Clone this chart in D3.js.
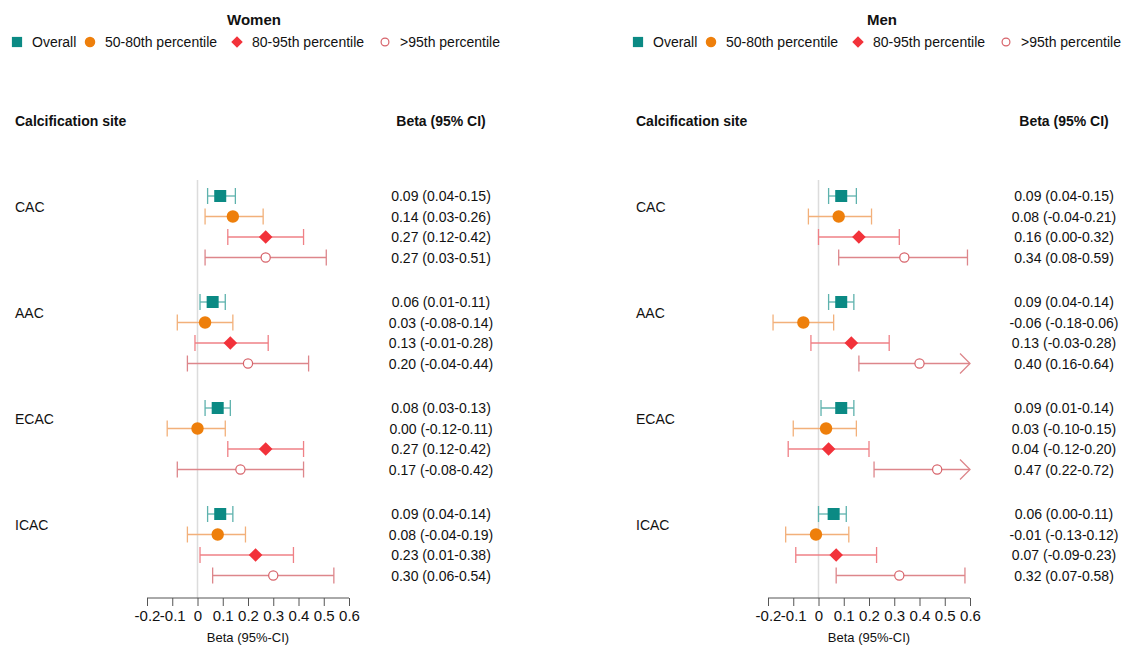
<!DOCTYPE html>
<html>
<head>
<meta charset="utf-8">
<script src="https://cdn.jsdelivr.net/npm/d3@7"></script>
<style>
  body { margin: 0; background: #fff; }
  text { font-family: "Liberation Sans", Arial, sans-serif; fill: #111; }
</style>
</head>
<body>
<div id="chart"></div>
<script>
// ---- data ----
var sites = ["CAC", "AAC", "ECAC", "ICAC"];
var groups = ["Overall", "50-80th percentile", "80-95th percentile", ">95th percentile"];

// women: [beta, lower, upper] per site, per group
var womenBeta  = [[0.09, 0.14, 0.27, 0.27], [0.06, 0.03, 0.13, 0.20], [0.08, 0.00, 0.27, 0.17], [0.09, 0.08, 0.23, 0.30]];
var womenLower = [[0.04, 0.03, 0.12, 0.03], [0.01, -0.08, -0.01, -0.04], [0.03, -0.12, 0.12, -0.08], [0.04, -0.04, 0.01, 0.06]];
var womenUpper = [[0.15, 0.26, 0.42, 0.51], [0.11, 0.14, 0.28, 0.44], [0.13, 0.11, 0.42, 0.42], [0.14, 0.19, 0.38, 0.54]];
var womenLabels = [
  ["0.09 (0.04-0.15)", "0.14 (0.03-0.26)", "0.27 (0.12-0.42)", "0.27 (0.03-0.51)"],
  ["0.06 (0.01-0.11)", "0.03 (-0.08-0.14)", "0.13 (-0.01-0.28)", "0.20 (-0.04-0.44)"],
  ["0.08 (0.03-0.13)", "0.00 (-0.12-0.11)", "0.27 (0.12-0.42)", "0.17 (-0.08-0.42)"],
  ["0.09 (0.04-0.14)", "0.08 (-0.04-0.19)", "0.23 (0.01-0.38)", "0.30 (0.06-0.54)"]
];

var menBeta  = [[0.09, 0.08, 0.16, 0.34], [0.09, -0.06, 0.13, 0.40], [0.09, 0.03, 0.04, 0.47], [0.06, -0.01, 0.07, 0.32]];
var menLower = [[0.04, -0.04, 0.00, 0.08], [0.04, -0.18, -0.03, 0.16], [0.01, -0.10, -0.12, 0.22], [0.00, -0.13, -0.09, 0.07]];
var menUpper = [[0.15, 0.21, 0.32, 0.59], [0.14, 0.06, 0.28, 0.64], [0.14, 0.15, 0.20, 0.72], [0.11, 0.12, 0.23, 0.58]];
var menLabels = [
  ["0.09 (0.04-0.15)", "0.08 (-0.04-0.21)", "0.16 (0.00-0.32)", "0.34 (0.08-0.59)"],
  ["0.09 (0.04-0.14)", "-0.06 (-0.18-0.06)", "0.13 (-0.03-0.28)", "0.40 (0.16-0.64)"],
  ["0.09 (0.01-0.14)", "0.03 (-0.10-0.15)", "0.04 (-0.12-0.20)", "0.47 (0.22-0.72)"],
  ["0.06 (0.00-0.11)", "-0.01 (-0.13-0.12)", "0.07 (-0.09-0.23)", "0.32 (0.07-0.58)"]
];

var xTicks = [-0.2, -0.1, 0, 0.1, 0.2, 0.3, 0.4, 0.5, 0.6];
var xTickLabels = ["-0.2", "-0.1", "0", "0.1", "0.2", "0.3", "0.4", "0.5", "0.6"];

// marker / line colours per group
var markColors = ["#0b8a84", "#ee7f0b", "#f2323a", "#d7636a"];
var lineColors = ["#5eb2ad", "#f2b07a", "#ef8086", "#dd868b"];

var width = 1132, height = 650;

var svg = d3.select("#chart")
  .append("svg")
  .attr("width", width)
  .attr("height", height);

// one panel per sex
function panel(opt) {
  var g = svg.append("g").attr("transform", "translate(" + opt.left + ",0)");

  var x = d3.scaleLinear().domain([-0.2, 0.6]).range([147, 349]);
  var yGroup = d3.scaleBand().domain(sites).range([196, 620]).paddingInner(0).paddingOuter(0);
  var yRow = d3.scaleLinear().domain([0, 3]).range([0, 61.5]);

  // title
  g.append("text")
    .attr("x", opt.titleX).attr("y", 25)
    .attr("text-anchor", "middle")
    .style("font-size", "15px").style("font-weight", "bold")
    .text(opt.title);

  // legend
  var leg = g.append("g").attr("class", "legend");
  var legX = [17, 90, 237, 385];
  groups.forEach(function(name, i) {
    var item = leg.append("g").attr("transform", "translate(" + legX[i] + ",42)");
    drawMark(item, i, 0, 0, 0.85);
    item.append("text")
      .attr("x", 15).attr("y", 5)
      .style("font-size", "14px")
      .text(name);
  });

  // column headers
  g.append("text")
    .attr("x", 15).attr("y", 126)
    .style("font-size", "14px").style("font-weight", "bold")
    .text("Calcification site");
  g.append("text")
    .attr("x", opt.colX).attr("y", 126)
    .attr("text-anchor", "middle")
    .style("font-size", "14px").style("font-weight", "bold")
    .text("Beta (95% CI)");

  // zero reference line
  g.append("line")
    .attr("x1", x(0)).attr("x2", x(0))
    .attr("y1", 180).attr("y2", 598)
    .attr("stroke", "#dcdcdc").attr("stroke-width", 1.5);

  // x axis
  var axis = d3.axisBottom(x)
    .tickValues(xTicks)
    .tickSize(8)
    .tickFormat(function(d, i) { return xTickLabels[i]; });
  var ax = g.append("g")
    .attr("transform", "translate(0,598)")
    .call(axis);
  ax.select(".domain").attr("d", "M" + x(-0.2) + ",0H" + x(0.6)).attr("stroke", "#555");
  ax.selectAll(".tick line").attr("stroke", "#555");
  ax.selectAll(".tick text")
    .attr("y", 12)
    .style("font-size", "15px")
    .style("font-family", "'Liberation Sans', Arial, sans-serif")
    .attr("fill", "#111");
  g.append("text")
    .attr("x", x(0.2)).attr("y", 642)
    .attr("text-anchor", "middle")
    .style("font-size", "13px")
    .text("Beta (95%-CI)");

  sites.forEach(function(site, s) {
    var y0 = yGroup(site);

    g.append("text")
      .attr("x", 15).attr("y", y0 + 16)
      .style("font-size", "14px")
      .text(site);

    groups.forEach(function(name, i) {
      var y = y0 + yRow(i);
      var lo = opt.lower[s][i], hi = opt.upper[s][i], b = opt.beta[s][i];
      var clipped = hi > 0.6;
      var xl = x(lo), xh = x(Math.min(hi, 0.6));

      g.append("line")
        .attr("x1", xl).attr("x2", xh)
        .attr("y1", y).attr("y2", y)
        .attr("stroke", lineColors[i]).attr("stroke-width", 1.3);
      g.append("line")
        .attr("x1", xl).attr("x2", xl)
        .attr("y1", y - 8).attr("y2", y + 8)
        .attr("stroke", lineColors[i]).attr("stroke-width", 1.3);
      if (clipped) {
        g.append("path")
          .attr("d", "M" + (xh - 10) + "," + (y - 10) + "L" + xh + "," + y + "L" + (xh - 10) + "," + (y + 10))
          .attr("fill", "none")
          .attr("stroke", lineColors[i]).attr("stroke-width", 1.3);
      } else {
        g.append("line")
          .attr("x1", xh).attr("x2", xh)
          .attr("y1", y - 8).attr("y2", y + 8)
          .attr("stroke", lineColors[i]).attr("stroke-width", 1.3);
      }

      drawMark(g, i, x(b), y, 1);

      g.append("text")
        .attr("x", opt.colX).attr("y", y + 5)
        .attr("text-anchor", "middle")
        .style("font-size", "14px")
        .text(opt.labels[s][i]);
    });
  });
}

function drawMark(sel, i, cx, cy, k) {
  if (i === 0) {
    var s = 12 * k;
    sel.append("rect")
      .attr("x", cx - s / 2).attr("y", cy - s / 2)
      .attr("width", s).attr("height", s)
      .attr("fill", markColors[0]);
  } else if (i === 1) {
    sel.append("circle")
      .attr("cx", cx).attr("cy", cy).attr("r", 6.2 * k)
      .attr("fill", markColors[1]);
  } else if (i === 2) {
    var d = 6.8 * k;
    sel.append("path")
      .attr("d", "M" + cx + "," + (cy - d) + "L" + (cx + d) + "," + cy + "L" + cx + "," + (cy + d) + "L" + (cx - d) + "," + cy + "Z")
      .attr("fill", markColors[2]);
  } else {
    sel.append("circle")
      .attr("cx", cx).attr("cy", cy).attr("r", 4.6 * k)
      .attr("fill", "#fff")
      .attr("stroke", markColors[3]).attr("stroke-width", 1.2);
  }
}

panel({ left: 0, title: "Women", titleX: 254, colX: 441,
  beta: womenBeta, lower: womenLower, upper: womenUpper, labels: womenLabels });
panel({ left: 621, title: "Men", titleX: 261, colX: 443,
  beta: menBeta, lower: menLower, upper: menUpper, labels: menLabels });
</script>
</body>
</html>
